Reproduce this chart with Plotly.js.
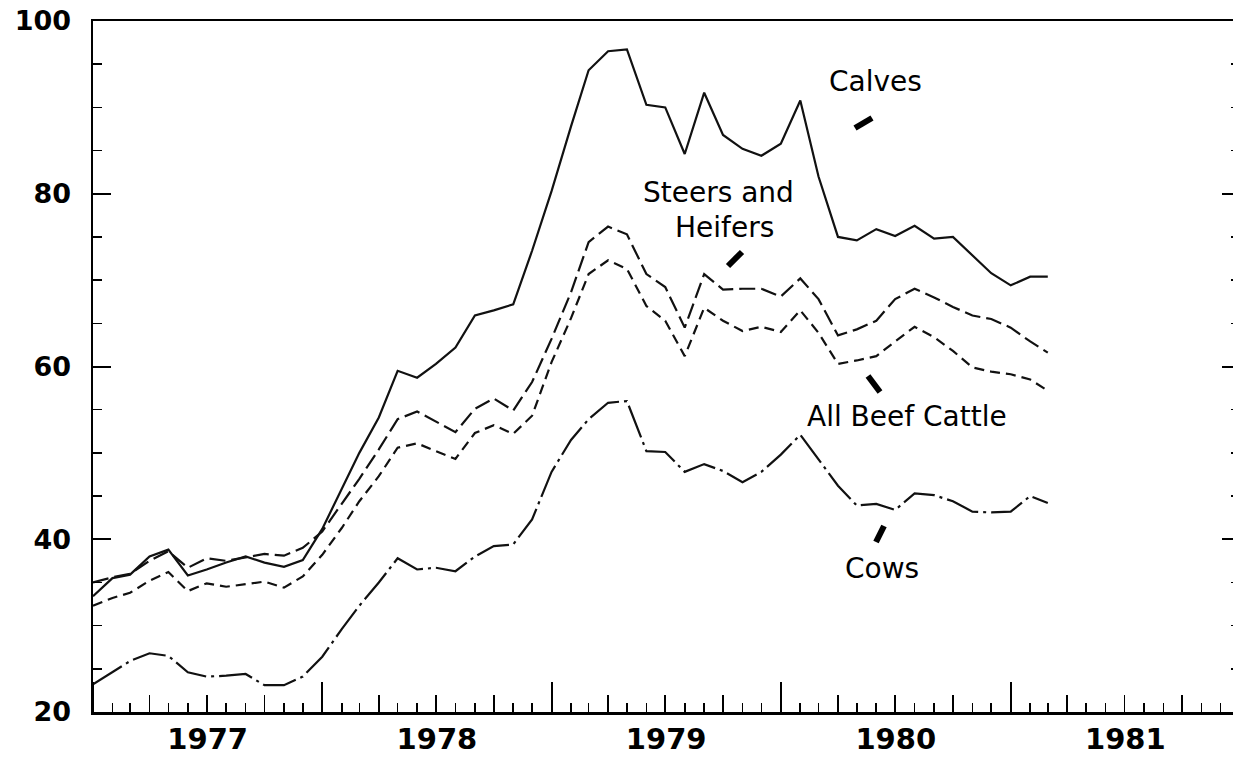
<!DOCTYPE html>
<html>
<head>
<meta charset="utf-8">
<script src="https://cdn.plot.ly/plotly-3.0.1.min.js"></script>
<style>
  html, body { margin: 0; padding: 0; background: #fff; overflow: hidden; }
  #chart { width: 1240px; height: 757px; }
</style>
</head>
<body>
<div id="chart"></div>
<script>
// Monthly prices, Jan 1977 .. Mar 1981 (dollars per cwt)
const startMonth = '1977-01-01';
const monthCount = 51;

const calves = [
  33.4, 35.5, 35.9, 38.0, 38.8, 35.8, 36.5, 37.3, 38.0, 37.3, 36.8, 37.6,
  41.2, 45.8, 50.0, 54.1, 59.5, 58.7, 60.3, 62.2, 65.9, 66.5, 67.2, 73.4,
  80.3, 87.8, 94.3, 96.5, 96.7, 90.3, 90.0, 84.6, 91.7, 86.8, 85.2, 84.4,
  85.8, 90.8, 82.0, 75.0, 74.6, 75.9, 75.1, 76.3, 74.8, 75.0, 72.9, 70.8,
  69.4, 70.4, 70.4
];
const steersHeifers = [
  35.0, 35.6, 36.0, 37.5, 38.6, 36.7, 37.8, 37.5, 37.9, 38.3, 38.1, 39.0,
  40.9, 44.1, 47.0, 50.4, 53.9, 54.8, 53.6, 52.4, 55.1, 56.3, 54.9, 58.2,
  63.2, 68.6, 74.4, 76.2, 75.3, 70.7, 69.2, 64.5, 70.7, 68.9, 69.0, 69.0,
  68.1, 70.2, 67.8, 63.6, 64.3, 65.3, 67.8, 69.0, 68.0, 66.9, 65.9, 65.5,
  64.5, 62.9, 61.6
];
const allBeef = [
  32.3, 33.2, 33.8, 35.2, 36.2, 34.0, 34.9, 34.5, 34.8, 35.1, 34.4, 35.7,
  38.2, 41.3, 44.4, 47.3, 50.6, 51.1, 50.2, 49.3, 52.3, 53.2, 52.2, 54.3,
  60.5, 65.6, 70.7, 72.3, 71.3, 67.0, 65.3, 61.2, 66.8, 65.3, 64.1, 64.6,
  64.0, 66.5, 63.9, 60.3, 60.7, 61.2, 62.9, 64.6, 63.4, 61.8, 59.9, 59.4,
  59.1, 58.5, 57.2
];
const cows = [
  23.2, 24.6, 25.9, 26.8, 26.5, 24.6, 24.1, 24.2, 24.4, 23.1, 23.1, 24.1,
  26.4, 29.6, 32.3, 35.0, 37.8, 36.5, 36.7, 36.3, 38.0, 39.2, 39.4, 42.3,
  47.8, 51.5, 53.9, 55.8, 56.0, 50.2, 50.1, 47.8, 48.7, 47.9, 46.6, 47.8,
  49.8, 52.1, 49.3, 46.2, 43.9, 44.1, 43.4, 45.3, 45.1, 44.4, 43.2, 43.1,
  43.2, 45.0, 44.2
];
const yTickVals = [20, 40, 60, 80, 100];
const labelTexts = ['Calves', 'Steers and', 'Heifers', 'All Beef Cattle', 'Cows'];

// month dates (positions on the time axis)
const months = [];
for (let i = 0; i < monthCount; i++) {
  const y = 1977 + Math.floor(i / 12);
  const m = (i % 12) + 1;
  months.push(y + '-' + String(m).padStart(2, '0') + '-01');
}

const W = 1240, H = 757;
const L = 93, R = 0, T = 21, B = 45;
const PW = W - L - R, PH = H - T - B;
const px = x => (x - L) / PW;
const py = y => (H - B - y) / PH;

const lineBase = { color: '#111', width: 2.2 };
const traces = [
  { x: months, y: calves, type: 'scatter', mode: 'lines', name: 'Calves',
    line: Object.assign({}, lineBase, { dash: 'solid' }) },
  { x: months, y: steersHeifers, type: 'scatter', mode: 'lines', name: 'Steers and Heifers',
    line: Object.assign({}, lineBase, { dash: '16px,6px' }) },
  { x: months, y: allBeef, type: 'scatter', mode: 'lines', name: 'All Beef Cattle',
    line: Object.assign({}, lineBase, { dash: '10px,6px' }) },
  { x: months, y: cows, type: 'scatter', mode: 'lines', name: 'Cows', xaxis: 'x2',
    line: Object.assign({}, lineBase, { dash: '34px,5px,3px,5px' }) }
];

const tickFontX = { family: 'DejaVu Sans', size: 29, color: '#000', weight: 'bold' };
const tickFontY = { family: 'DejaVu Sans', size: 27, color: '#000', weight: 'bold' };
const labelFont = { family: 'DejaVu Sans', size: 28, color: '#000' };

function ann(text, x, y) {
  return { text: text, xref: 'paper', yref: 'paper', x: px(x), y: py(y),
           xanchor: 'center', yanchor: 'middle', showarrow: false, font: labelFont };
}
function pointer(x0, y0, x1, y1) {
  return { type: 'line', xref: 'paper', yref: 'paper',
           x0: px(x0), y0: py(y0), x1: px(x1), y1: py(y1),
           line: { color: '#000', width: 6 } };
}

const xRange = ['1977-01-01', '1982-01-01'];
const layout = {
  width: W, height: H,
  margin: { l: L, r: R, t: T, b: B, pad: 0 },
  paper_bgcolor: '#fff', plot_bgcolor: '#fff',
  showlegend: false, hovermode: false,
  xaxis: {
    type: 'date', range: xRange, fixedrange: true,
    showline: true, linecolor: '#000', linewidth: 2.5, mirror: true,
    ticks: 'inside', ticklen: 30, tickwidth: 2, tickcolor: '#000',
    tick0: '1977-01-01', dtick: 'M12', ticklabelmode: 'period', tickformat: '%Y',
    tickfont: tickFontX, ticklabelstandoff: 0,
    minor: { ticks: 'inside', ticklen: 9, tickwidth: 1.6, tickcolor: '#000',
             tick0: '1977-01-01', dtick: 'M1', showgrid: false },
    showgrid: false, zeroline: false
  },
  xaxis2: {
    type: 'date', range: xRange, overlaying: 'x', anchor: 'y', side: 'bottom', fixedrange: true,
    showline: false, ticks: 'inside', ticklen: 17, tickwidth: 1.8, tickcolor: '#000',
    tick0: '1977-01-01', dtick: 'M3', showticklabels: false, showgrid: false, zeroline: false
  },
  yaxis: {
    range: [20, 100], fixedrange: true,
    showline: true, linecolor: '#000', linewidth: 2.5, mirror: 'ticks',
    ticks: 'inside', ticklen: 18, tickwidth: 2, tickcolor: '#000',
    tickmode: 'array', tickvals: yTickVals, ticktext: yTickVals.map(String),
    tickfont: tickFontY, ticklabelstandoff: 14,
    minor: { ticks: 'inside', ticklen: 9, tickwidth: 1.6, tickcolor: '#000', dtick: 5, tick0: 20, showgrid: false },
    showgrid: false, zeroline: false
  },
  annotations: [
    ann(labelTexts[0], 875, 81),
    ann(labelTexts[1], 718, 193),
    ann(labelTexts[2], 724, 228),
    ann(labelTexts[3], 907, 416),
    ann(labelTexts[4], 882, 568)
  ],
  shapes: [
    pointer(855, 128, 872, 118),
    pointer(728, 266, 742, 252),
    pointer(868, 376, 880, 392),
    pointer(876, 542, 884, 526)
  ]
};

Plotly.newPlot('chart', traces, layout, { staticPlot: true, displayModeBar: false });
</script>
</body>
</html>
